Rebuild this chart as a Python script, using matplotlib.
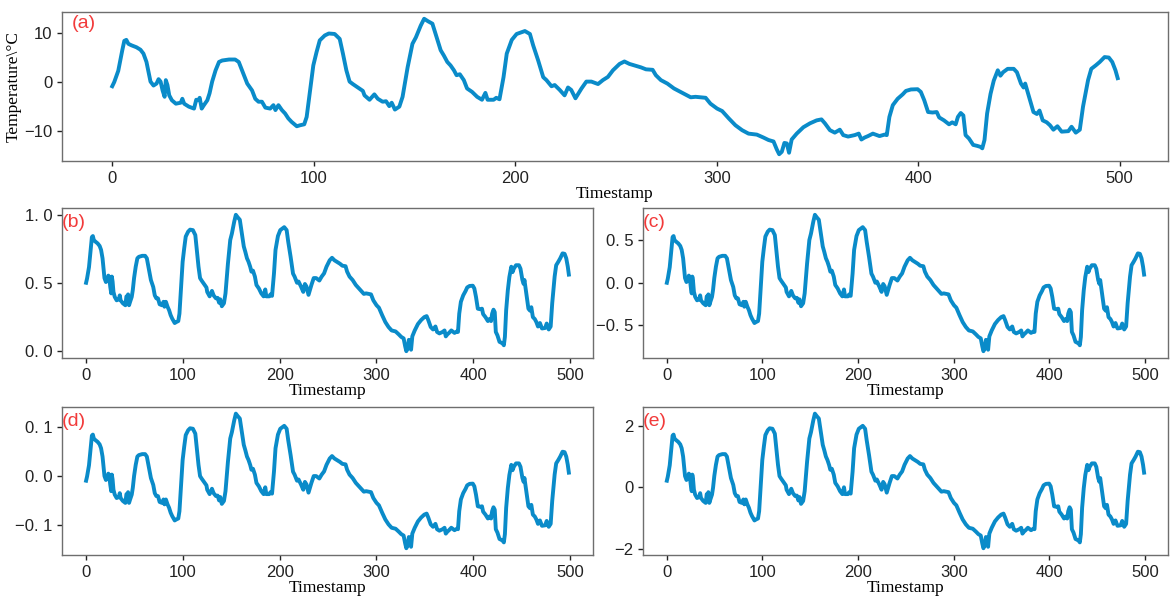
import matplotlib
matplotlib.use("Agg")
import matplotlib.pyplot as plt
from matplotlib.ticker import FuncFormatter, MultipleLocator
import numpy as np

# Temperaturverlauf (a): Zeitstempel und Temperatur in °C
t = [0, 1, 3, 5, 6, 7, 8, 9.5, 12, 14, 15.5, 17, 18, 19, 20.5, 22, 23, 24, 25, 26,
     26.6, 27.4, 28.3, 29.6, 31.6, 34, 34.8, 35.7, 38, 40.6, 41.7, 42.7, 43.4, 44.4, 45.5,
     47.2, 48.3, 49.6, 51.3, 53, 54.6, 58, 61, 62.8, 64.4, 67, 69.4, 71, 72.6, 74.3,
     76, 78.4, 80, 81, 82.5, 84.2, 85.8, 87.4, 89, 91.6, 93.2, 95.3, 96.5, 98, 99.8,
     101.4, 103, 105.5, 107.5, 110.4, 112.9, 114.5, 116.2, 117.8, 119.4, 121.9, 124.4,
     125.2, 127.7, 130.1, 131.8, 134.2, 135.9, 137.5, 138.7, 140.3, 142.5, 144.1, 146.6,
     149, 150.7, 153.1, 154.8, 156.7, 158.9, 160.5, 163, 164.6, 166.3, 167.9, 169.6,
     170.9, 172.5, 174.5, 176.1, 178.6, 181.1, 183.5, 185.2, 186.3, 189.3, 190.6, 192.2,
     194.2, 195.8, 198.3, 200.7, 204.8, 207.3, 208.9, 211.4, 213.9, 215.5, 218, 219.6,
     222.1, 224.5, 226.2, 227.8, 229.9, 232.9, 235.3, 237.8, 241.1, 243.5, 246, 248.5,
     251.8, 254.2, 256.7, 259.1, 262.4, 264.9, 268.2, 269.8, 272.3, 275.5, 278.8, 283,
     287.1, 289.5, 292, 294.5, 296.9, 300.2, 302.7, 306, 309.3, 312.6, 315.8, 319.9,
     323.2, 325.7, 328.2, 329.8, 331, 332.3, 333.6, 334.8, 335.9, 337.2, 339.7, 343,
     346.3, 349.6, 352, 353.7, 356.2, 358.6, 361.1, 362.8, 365.2, 368.5, 370.5, 371.8,
     373.4, 375.1, 377.5, 380.8, 383.3, 384.4, 385.7, 387.4, 389.8, 392.3, 393.9, 396.4,
     399.7, 401.3, 403, 404.9, 407.1, 409.2, 410.4, 412.8, 415.3, 416.9, 418.6, 419.7,
     421.1, 422.4, 423.5, 425.2, 427.3, 429.3, 430.9, 431.8, 432.9, 434.2, 435.9, 437.5,
     439.5, 440.8, 442.1, 444.4, 447.4, 449, 451, 452.3, 453.1, 454.8, 457.2, 458.9,
     460.2, 461.8, 463.8, 465.4, 467.1, 469.1, 471.2, 474.5, 476.1, 478.2, 480.2, 481.8,
     484.3, 485.9, 488.1, 490.1, 492.5, 494.6, 496.3, 497.9, 499]
temp = [-0.95, -0.1, 2.2, 6.4, 8.3, 8.5, 7.7, 7.4, 7.0, 6.5, 5.7, 4.0, 2.0, 0.0, -0.8, -0.4, 0.5, 0.0, -1.8, -3.1,
        0.3, -0.7, -2.8, -3.8, -4.5, -4.3, -3.5, -4.5, -5.1, -5.5, -3.7, -3.8, -3.3, -5.5, -4.8,
        -3.8, -2.4, 0.0, 2.3, 4.0, 4.3, 4.5, 4.5, 4.0, 2.3, -0.4, -1.8, -3.5, -4.1, -4.1,
        -5.3, -5.5, -4.8, -5.8, -4.8, -5.8, -6.5, -7.5, -8.2, -9.1, -8.9, -8.7, -7.2, -2.4, 3.3,
        6.0, 8.4, 9.4, 9.8, 9.7, 8.7, 5.7, 2.3, 0.0, -0.5, -1.2, -1.9,
        -2.8, -3.7, -2.6, -3.5, -4.1, -4.0, -5.0, -4.3, -5.7, -5.1, -3.1, 2.9,
        7.7, 9.0, 11.4, 12.8, 12.3, 11.8, 9.7, 6.4, 5.3, 4.0, 3.3, 2.3,
        1.3, 1.5, 0.3, -1.4, -2.1, -3.1, -3.7, -2.3, -3.7, -3.7, -3.3, -3.6,
        0.9, 5.7, 8.5, 9.7, 10.3, 9.7, 7.4, 4.3, 0.9, 0.3, -0.95, -0.7,
        -1.7, -2.8, -1.2, -1.7, -3.4, -1.4, 0.0, 0.0, -0.5, 0.3, 0.95, 2.3,
        3.6, 4.1, 3.6, 3.3, 2.9, 2.5, 2.4, 1.3, 0.3, -0.4, -1.4, -2.3,
        -3.2, -3.1, -3.2, -3.3, -4.5, -5.5, -6.0, -7.5, -8.9, -9.9, -10.6, -10.8,
        -11.4, -11.9, -12.2, -13.8, -14.8, -14.3, -12.5, -12.6, -14.5, -11.8, -10.6, -9.3,
        -8.5, -7.9, -7.7, -8.5, -9.9, -10.4, -9.8, -10.9, -11.2, -10.9, -10.6, -11.8,
        -11.4, -11.1, -10.6, -11.1, -10.8, -10.9, -7.2, -4.8, -3.5, -2.6, -1.9, -1.6,
        -1.55, -2.1, -3.8, -6.2, -6.3, -6.2, -7.3, -7.9, -8.7, -8.3, -8.7, -7.2,
        -6.4, -6.9, -10.9, -11.6, -12.9, -13.1, -13.3, -13.6, -11.9, -6.5, -2.5, 0.2,
        2.3, 1.2, 1.9, 2.6, 2.6, 1.9, -0.4, -1.2, -0.4, -2.8, -6.2, -6.6,
        -5.9, -7.9, -8.3, -8.9, -9.8, -9.1, -10.2, -10.1, -9.2, -10.4, -9.8, -5.1,
        0.3, 2.6, 3.3, 4.0, 5.0, 4.9, 4.0, 2.3, 0.7]

c_center, c_scale = -0.95, 17.2     # (c)
d_scale = 100.0                     # (d) Dezimalskalierung
z_mean, z_std = -2.34, 6.3          # (e) z-Score

t = np.array(t)
temp = np.array(temp)

# b) Min-Max, c) zentriert, d) Dezimal, e) z-Score
norm_b = (temp - temp.min()) / (temp.max() - temp.min())
norm_c = (temp - c_center) / c_scale
norm_d = temp / d_scale
norm_e = (temp - z_mean) / z_std

farbe = '#0a8bc9'
serif = 'Liberation Serif'

plt.rcParams['font.family'] = 'Liberation Sans'
plt.rcParams['axes.edgecolor'] = '#6e6e6e'
plt.rcParams['axes.linewidth'] = 1.0

fig = plt.figure(figsize=(11.71, 5.97), dpi=100)

ax_a = fig.add_axes([0.0529, 0.7303, 0.9445, 0.2496])
ax_b = fig.add_axes([0.0529, 0.4003, 0.4535, 0.2513])
ax_c = fig.add_axes([0.5491, 0.4003, 0.4483, 0.2513])
ax_d = fig.add_axes([0.0529, 0.0704, 0.4535, 0.2480])
ax_e = fig.add_axes([0.5491, 0.0704, 0.4483, 0.2480])


def dezimal(v, pos):
    # Tick-Beschriftung wie im Original: "0. 5"
    s = '%.1f' % v
    s = s.replace('-', '\u2212')
    return s.replace('.', '. ')


panels = [
    (ax_a, temp, '(a)', 10, None),
    (ax_b, norm_b, '(b)', 0.5, dezimal),
    (ax_c, norm_c, '(c)', 0.5, dezimal),
    (ax_d, norm_d, '(d)', 0.1, dezimal),
    (ax_e, norm_e, '(e)', 2, None),
]

for ax, werte, name, schritt, fmt in panels:
    ax.plot(t, werte, color=farbe, linewidth=2.8)
    ax.yaxis.set_major_locator(MultipleLocator(schritt))
    ax.xaxis.set_major_locator(MultipleLocator(100))
    if fmt is not None:
        ax.yaxis.set_major_formatter(FuncFormatter(fmt))
    ax.tick_params(labelsize=12, length=3.5, width=1, colors='#222222')
    ax.set_xlabel('Timestamp', family=serif, fontsize=12.5, labelpad=0)
    if ax is ax_a:
        ax.text(0.009, 0.92, name, transform=ax.transAxes, color='#f23a3a',
                fontsize=14, va='center', ha='left')
    else:
        ax.text(0.0, 0.9, name, transform=ax.transAxes, color='#f23a3a',
                fontsize=14, va='center', ha='left')

ax_a.set_ylabel('Temperature\\°C', family=serif, fontsize=12.5, labelpad=2)

fig.savefig('out.png', dpi=100)
